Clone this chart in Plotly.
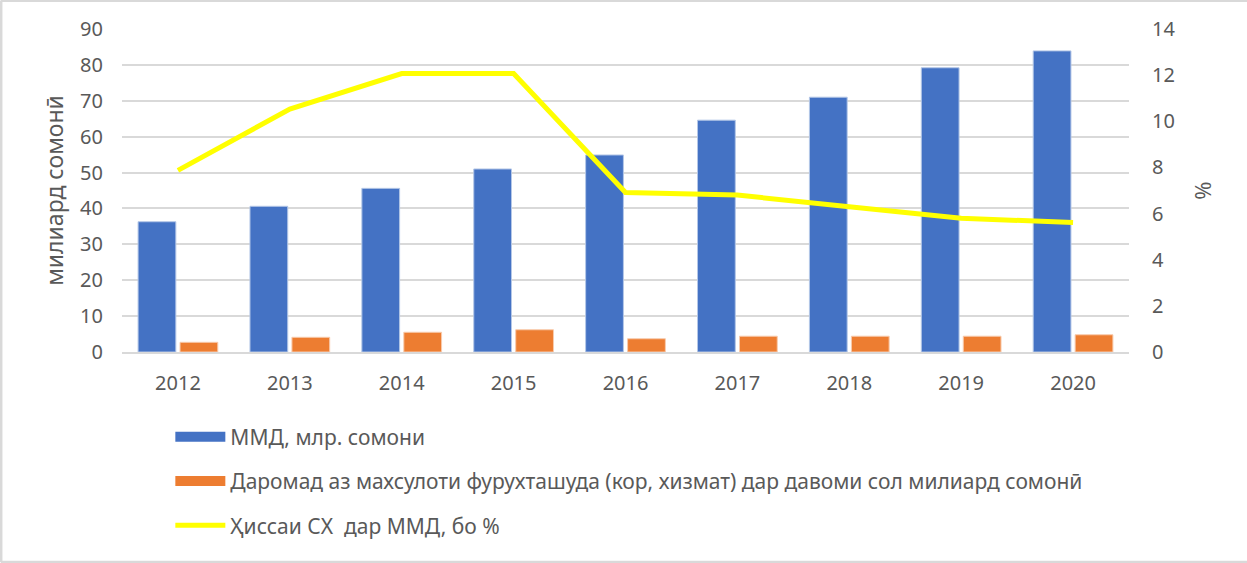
import plotly.graph_objects as go

years = ["2012", "2013", "2014", "2015", "2016", "2017", "2018", "2019", "2020"]
gdp = [36.3, 40.6, 45.6, 51.0, 54.9, 64.6, 71.0, 79.2, 83.9]
agri_income = [2.7, 4.1, 5.5, 6.2, 3.7, 4.4, 4.4, 4.4, 4.8]
share_pct = [7.87, 10.53, 12.07, 12.07, 6.91, 6.8, 6.3, 5.8, 5.61]

name_gdp = "ММД, млр. сомони"
name_inc = "Даромад аз махсулоти фурухташуда (кор, хизмат) дар давоми сол милиард сомонӣ"
name_share = "Ҳиссаи СХ  дар ММД, бо %"

FONT = "Noto Sans, Open Sans, sans-serif"
GRAY = "#595959"
BLUE = "#4472C4"
ORANGE = "#ED7D31"
YELLOW = "#FFFF00"

fig = go.Figure()
fig.add_trace(go.Bar(x=years, y=gdp, name=name_gdp, showlegend=False,
                     marker=dict(color=BLUE, line=dict(color="#B4C7E7", width=1))))
fig.add_trace(go.Bar(x=years, y=agri_income, name=name_inc, showlegend=False,
                     marker=dict(color=ORANGE, line=dict(color="#F8CBAD", width=1))))
fig.add_trace(go.Scatter(x=years, y=share_pct, name=name_share, mode="lines", yaxis="y2",
                         showlegend=False, line=dict(color=YELLOW, width=5)))

# legend entries (Excel-style wide swatches)
fig.add_trace(go.Scatter(x=[None], y=[None], mode="lines", name=name_gdp,
                         line=dict(color=BLUE, width=10), legendgroup="a", hoverinfo="skip"))
fig.add_trace(go.Scatter(x=[None], y=[None], mode="lines", name=name_inc,
                         line=dict(color=ORANGE, width=10), legendgroup="b", hoverinfo="skip"))
fig.add_trace(go.Scatter(x=[None], y=[None], mode="lines", name=name_share, yaxis="y2",
                         line=dict(color=YELLOW, width=5), legendgroup="c", hoverinfo="skip"))

fig.update_layout(
    width=1247, height=563,
    margin=dict(l=122, r=118, t=29, b=211, autoexpand=False),
    paper_bgcolor="white", plot_bgcolor="white",
    font=dict(family=FONT, size=20, color=GRAY),
    barmode="group", bargap=0.25, bargroupgap=0.1,
    showlegend=True,
    legend=dict(orientation="v", x=0.048, xanchor="left", y=-0.2, yanchor="top",
                traceorder="grouped", tracegroupgap=14, bgcolor="rgba(0,0,0,0)",
                font=dict(size=21, color=GRAY, family=FONT), itemwidth=50),
    xaxis=dict(showgrid=False, showline=True, linecolor="#D9D9D9", linewidth=1.5, ticks="",
               tickfont=dict(size=20, color=GRAY), ticklabelstandoff=12),
    yaxis=dict(range=[0, 90], dtick=10, showgrid=True, gridcolor="#D9D9D9", gridwidth=1.5,
               zeroline=False, ticks="", tickfont=dict(size=20, color=GRAY), ticklabelstandoff=18,
               title=dict(text="милиард сомонӣ", font=dict(size=23, color=GRAY), standoff=10)),
    yaxis2=dict(range=[0, 14], dtick=2, overlaying="y", side="right", showgrid=False, zeroline=False,
                ticks="", tickfont=dict(size=20, color=GRAY), ticklabelstandoff=22,
                title=dict(text="%", font=dict(size=22, color=GRAY), standoff=21)),
    shapes=[
        dict(type="line", xref="paper", yref="paper", x0=-0.1202, x1=-0.1202, y0=-0.651, y1=1.088,
             line=dict(color="#D9D9D9", width=3)),
        dict(type="line", xref="paper", yref="paper", x0=-0.1202, x1=1.118, y0=1.088, y1=1.088,
             line=dict(color="#D9D9D9", width=3)),
        dict(type="line", xref="paper", yref="paper", x0=-0.1202, x1=1.118, y0=-0.651, y1=-0.651,
             line=dict(color="#D9D9D9", width=3)),
    ],
)

fig.write_html("out.html", config={"displayModeBar": False},
               post_script="document.body.style.margin='0';")
